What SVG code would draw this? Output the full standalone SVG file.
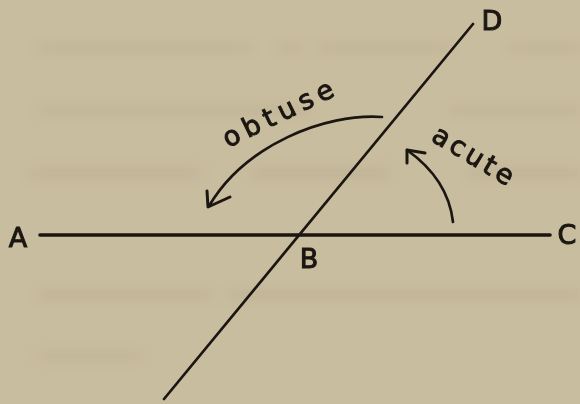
<svg xmlns="http://www.w3.org/2000/svg" width="580" height="404" viewBox="0 0 580 404">
  <defs>
    <filter id="blur" x="-10%" y="-150%" width="120%" height="400%">
      <feGaussianBlur stdDeviation="6 5"/>
    </filter>
    <style>
      .ink { stroke: #1b1611; fill: none; stroke-linecap: round; stroke-linejoin: round; }
      .lbl { font-family: "DejaVu Sans", "Liberation Sans", sans-serif; fill: #1b1611; stroke: #1b1611; stroke-width: 1; }
      .cap { font-size: 27px; text-anchor: middle; }
      .word { font-size: 27px; }
      .band { fill: #ad9f80; opacity: 0.25; }
    </style>
  </defs>
  <rect width="580" height="404" fill="#c9bd9f"/>
  <g id="bleed" filter="url(#blur)">
    <rect class="band" x="40" y="44" width="110" height="8"/>
    <rect class="band" x="150" y="44" width="100" height="8"/>
    <rect class="band" x="280" y="44" width="20" height="8"/>
    <rect class="band" x="320" y="44" width="130" height="8"/>
    <rect class="band" x="510" y="44" width="70" height="8"/>
    <rect class="band" x="40" y="106" width="120" height="8"/>
    <rect class="band" x="160" y="106" width="150" height="8"/>
    <rect class="band" x="450" y="106" width="130" height="8"/>
    <rect class="band" x="30" y="168" width="170" height="10"/>
    <rect class="band" x="250" y="168" width="140" height="10"/>
    <rect class="band" x="470" y="168" width="110" height="10"/>
    <rect class="band" x="40" y="290" width="170" height="10"/>
    <rect class="band" x="230" y="290" width="350" height="10"/>
    <rect class="band" x="40" y="352" width="100" height="8"/>
  </g>
  <g id="connectors">
    <path id="line-AC" class="ink" stroke-width="3.6" d="M40,235 L550,235"/>
    <path id="line-BD" class="ink" stroke-width="2.7" d="M164,399 L473,24"/>
    <path id="arc-obtuse" class="ink" stroke-width="2.7" d="M382,117 C325,113 245,145 209,206"/>
    <path id="arrow-obtuse" class="ink" stroke-width="3" d="M207,191 L208,207 L230,197"/>
    <path id="arc-acute" class="ink" stroke-width="2.7" d="M453,222 C450,195 435,170 407,150"/>
    <path id="arrow-acute" class="ink" stroke-width="3" d="M407,163 L407,150 L425,153"/>
  </g>
  <g id="node-A"><text class="lbl cap" x="18" y="247">A</text></g>
  <g id="node-B"><text class="lbl cap" x="309" y="268">B</text></g>
  <g id="node-C"><text class="lbl cap" x="567" y="244">C</text></g>
  <g id="node-D"><text class="lbl cap" x="492" y="30">D</text></g>
  <g id="label-obtuse">
    <text class="lbl word" transform="translate(228,148) rotate(-26)" x="0" y="0" textLength="120" lengthAdjust="spacing">obtuse</text>
  </g>
  <g id="label-acute">
    <text class="lbl word" transform="translate(430,140) rotate(31)" x="0" y="0" textLength="90" lengthAdjust="spacing">acute</text>
  </g>
</svg>
